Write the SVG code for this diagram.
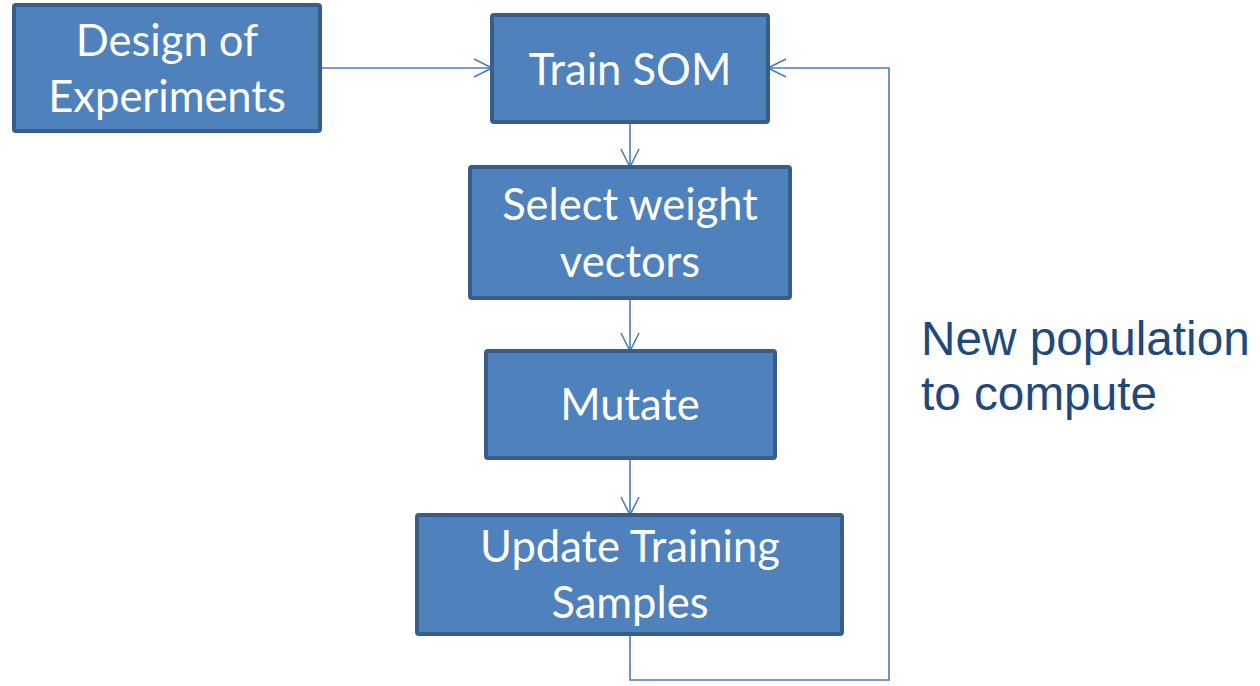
<svg xmlns="http://www.w3.org/2000/svg" width="1260" height="686" viewBox="0 0 1260 686">
  <style>
    .box { fill: #4F81BD; stroke: #385D8A; stroke-width: 4; }
    .label { font-family: Lato, "Open Sans", sans-serif; font-size: 43.5px; fill: #FFFFFF; text-anchor: middle; }
    .link { fill: none; stroke: #4A7EBB; stroke-width: 1.6; }
    .note { font-family: "Liberation Sans", Arial, sans-serif; font-size: 47.7px; fill: #1F497D; }
  </style>
  <defs>
    <marker id="arrow" viewBox="0 0 20 20" refX="19" refY="10" markerWidth="20" markerHeight="20" markerUnits="userSpaceOnUse" orient="auto">
      <path d="M1,1 L19,10 L1,19" fill="none" stroke="#4A7EBB" stroke-width="1.6"/>
    </marker>
  </defs>

  <g id="connectors">
    <path class="link" d="M320,68 L492,68" marker-end="url(#arrow)"/>
    <path class="link" d="M630,122 L630,167" marker-end="url(#arrow)"/>
    <path class="link" d="M630,298 L630,351" marker-end="url(#arrow)"/>
    <path class="link" d="M630,458 L630,515" marker-end="url(#arrow)"/>
    <path class="link" d="M630,634 L630,680 L889,680 L889,68 L768,68" marker-end="url(#arrow)"/>
  </g>

  <g id="design-of-experiments">
    <rect class="box" x="14" y="5" width="306" height="126" rx="2"/>
    <text class="label" x="167" y="56">Design of</text>
    <text class="label" x="167" y="112">Experiments</text>
  </g>

  <g id="train-som">
    <rect class="box" x="492" y="15" width="276" height="107" rx="2"/>
    <text class="label" x="630" y="85">Train SOM</text>
  </g>

  <g id="select-weight-vectors">
    <rect class="box" x="470" y="167" width="320" height="131" rx="2"/>
    <text class="label" x="630" y="220">Select weight</text>
    <text class="label" x="630" y="277">vectors</text>
  </g>

  <g id="mutate">
    <rect class="box" x="486" y="351" width="289" height="107" rx="2"/>
    <text class="label" x="630" y="420">Mutate</text>
  </g>

  <g id="update-training-samples">
    <rect class="box" x="417" y="515" width="425" height="119" rx="2"/>
    <text class="label" x="630" y="562">Update Training</text>
    <text class="label" x="630" y="618">Samples</text>
  </g>

  <g id="loop-note">
    <text class="note" x="921" y="355">New population</text>
    <text class="note" x="921" y="410">to compute</text>
  </g>
</svg>
